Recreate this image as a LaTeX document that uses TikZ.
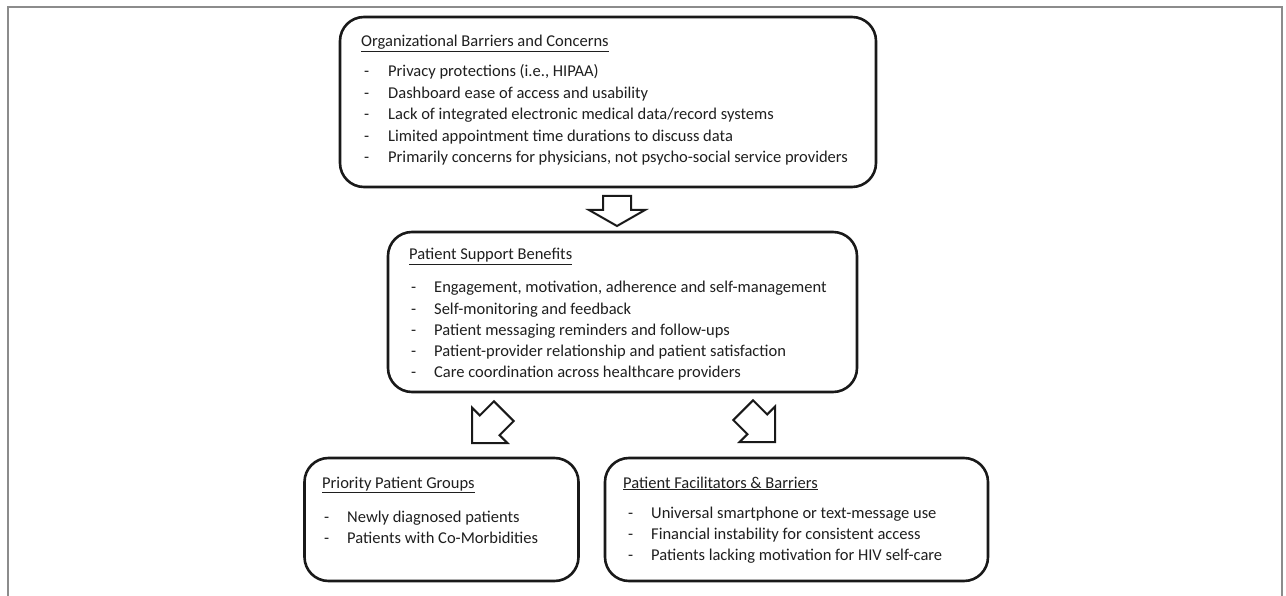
\documentclass[tikz,border=0pt]{standalone}
\usepackage{fontspec}
\setmainfont{Carlito}
\tikzset{
  box/.style={draw=black!90, line width=2.6pt, rounded corners=24pt, fill=white, inner sep=0pt},
  txt/.style={inner sep=0pt, font=\fontsize{16.5}{21}\selectfont, text=black!88},
  barrow/.style={draw=black!90, line width=2pt, line join=miter, fill=white},
  frame/.style={draw=black!45, line width=1.6pt}
}
\begin{document}
\begin{tikzpicture}[x=1pt,y=-1pt]
\useasboundingbox (0,0) rectangle (1286,596);
\draw[frame] (8,600) -- (8,7) -- (1282,7) -- (1282,600);

% boxes
\node[box, minimum width=536pt, minimum height=170pt] (b1) at (608,102) {};
\node[box, minimum width=469pt, minimum height=160pt] (b2) at (622.5,312) {};
\node[box, minimum width=274pt, minimum height=123pt] (b3) at (441.5,519.5) {};
\node[box, minimum width=383pt, minimum height=123pt] (b4) at (796.5,519.5) {};

% box 1
\node[txt, anchor=base west] (b1t) at (361,47) {\underline{Organizational Barriers and Concerns}};
\foreach \t [count=\i] in {{Privacy protections (i.e., HIPAA)},{Dashboard ease of access and usability},{Lack of integrated electronic medical data/record systems},{Limited appointment time durations to discuss data},{Primarily concerns for physicians, not psycho-social service providers}}{
  \node[txt, anchor=base west] (b1d\i) at (364,{77+21.5*(\i-1)}) {-};
  \node[txt, anchor=base west] (b1i\i) at (388,{77+21.5*(\i-1)}) {\t};
}

% box 2
\node[txt, anchor=base west] (b2t) at (409,260) {\underline{Patient Support Benefits}};
\foreach \t [count=\i] in {{Engagement, motivation, adherence and self-management},{Self-monitoring and feedback},{Patient messaging reminders and follow-ups},{Patient-provider relationship and patient satisfaction},{Care coordination across healthcare providers}}{
  \node[txt, anchor=base west] (b2d\i) at (411,{293+21*(\i-1)}) {-};
  \node[txt, anchor=base west] (b2i\i) at (434,{293+21*(\i-1)}) {\t};
}

% box 3
\node[txt, anchor=base west] (b3t) at (322,488) {\underline{Priority Patient Groups}};
\foreach \t [count=\i] in {{Newly diagnosed patients},{Patients with Co-Morbidities}}{
  \node[txt, anchor=base west] (b3d\i) at (324,{522+21*(\i-1)}) {-};
  \node[txt, anchor=base west] (b3i\i) at (347,{522+21*(\i-1)}) {\t};
}

% box 4
\node[txt, anchor=base west] (b4t) at (623,488) {\underline{Patient Facilitators \& Barriers}};
\foreach \t [count=\i] in {{Universal smartphone or text-message use},{Financial instability for consistent access},{Patients lacking motivation for HIV self-care}}{
  \node[txt, anchor=base west] (b4d\i) at (628,{518+21*(\i-1)}) {-};
  \node[txt, anchor=base west] (b4i\i) at (651,{518+21*(\i-1)}) {\t};
}

% block arrows
\coordinate (a1) at (617,226);
\coordinate (a2) at (472,443);
\coordinate (a3) at (775,442);
\begin{scope}[shift={(a1)}]
  \draw[barrow] (0,0) -- (28,-16) -- (14,-16) -- (14,-30) -- (-14,-30) -- (-14,-16) -- (-28,-16) -- cycle;
\end{scope}
\begin{scope}[shift={(a2)}]
  \draw[barrow] (0,0) -- (35.4,0) -- (27.6,-7.8) -- (41.7,-21.9) -- (21.9,-41.7) -- (7.8,-27.6) -- (0,-35.4) -- cycle;
\end{scope}
\begin{scope}[shift={(a3)}]
  \draw[barrow] (0,0) -- (-35.4,0) -- (-27.6,-7.8) -- (-41.7,-21.9) -- (-21.9,-41.7) -- (-7.8,-27.6) -- (0,-35.4) -- cycle;
\end{scope}
\end{tikzpicture}
\end{document}
